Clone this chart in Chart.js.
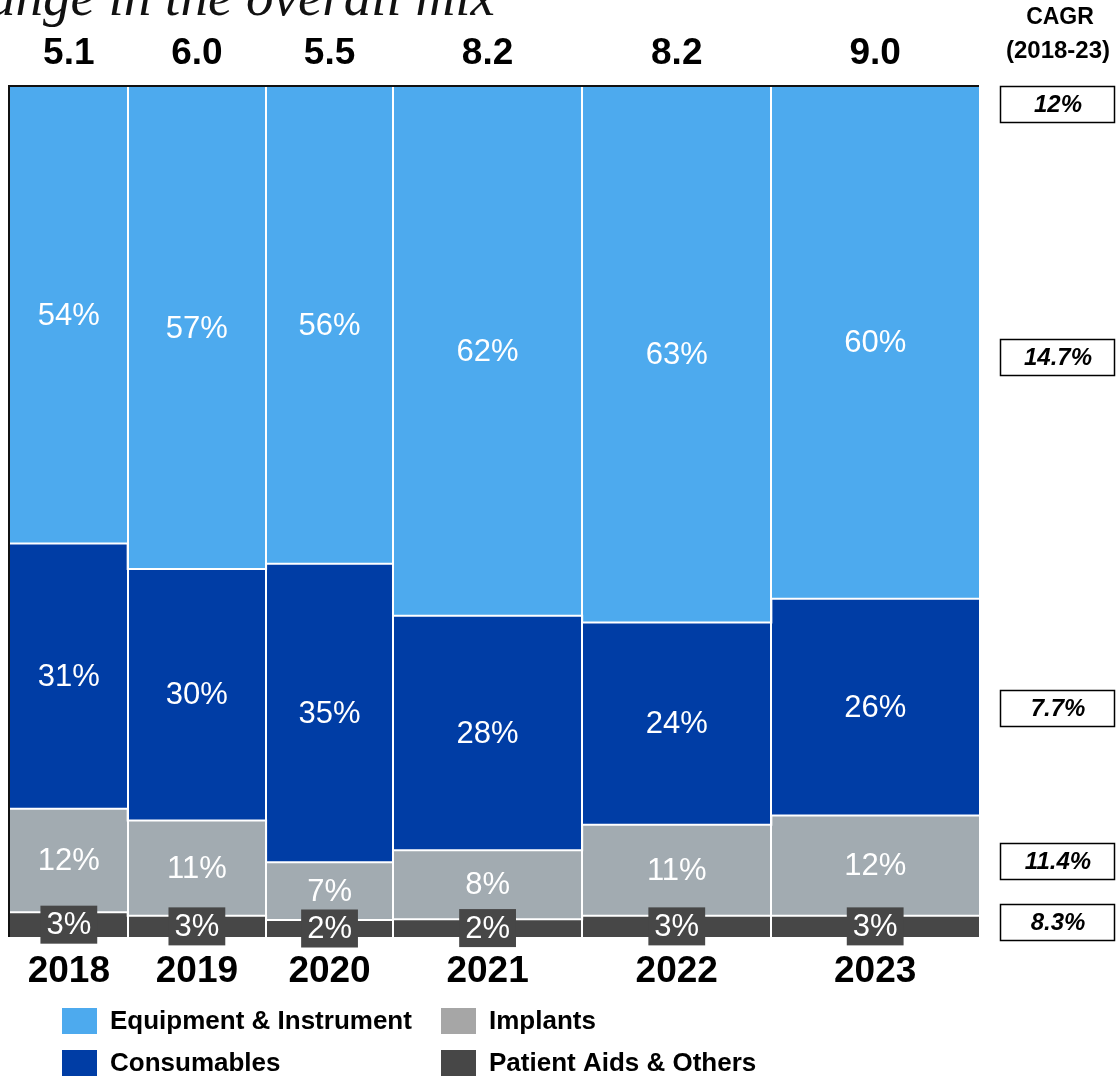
<!DOCTYPE html>
<html>
<head>
<meta charset="utf-8">
<script src="https://cdn.jsdelivr.net/npm/chart.js@4.4.1/dist/chart.umd.min.js"></script>
<style>
  html, body { margin: 0; padding: 0; background: #fff; }
  #wrap { position: relative; width: 1117px; height: 1077px; }
</style>
</head>
<body>
<div id="wrap"><canvas id="c"></canvas></div>
<script>
// Marimekko: column width = market size, stack = share of each segment.
const years = ["2018", "2019", "2020", "2021", "2022", "2023"];
const totals = [5.1, 6.0, 5.5, 8.2, 8.2, 9.0];

// shares in %, bottom segment first
const patientAids = [2.9, 2.5, 2.0, 2.1, 2.5, 2.5];
const implants    = [12.2, 11.2, 6.8, 8.1, 10.7, 11.8];
const consumables = [31.2, 29.6, 35.1, 27.6, 23.8, 25.5];
const equipment   = [53.7, 56.7, 56.1, 62.2, 63.0, 60.2];

const cagrLabels = ["12%", "14.7%", "7.7%", "11.4%", "8.3%"];

const SERIES = [
  { name: "Patient Aids & Others",  values: patientAids, color: "#474747", key: "#474747" },
  { name: "Implants",               values: implants,    color: "#A2ABB1", key: "#A6A6A6" },
  { name: "Consumables",            values: consumables, color: "#003DA5", key: "#003DA5" },
  { name: "Equipment & Instrument", values: equipment,   color: "#4DAAEE", key: "#4DAAEE" },
];

const FONT = "Arial, 'Liberation Sans', sans-serif";
const CAGR_BOX_TOPS = [86, 339, 690, 843, 904];

// column start positions along x
const starts = [];
totals.reduce((acc, t) => { starts.push(acc); return acc + t; }, 0);
const xMax = totals.reduce((a, b) => a + b, 0);
const centers = totals.map((t, i) => starts[i] + t / 2);

// cumulative tops per series
const cum = [];
SERIES.forEach((s, k) => {
  cum.push(s.values.map((v, i) => (k ? cum[k - 1][i] : 0) + v));
});

// each segment is a stepped line filled down to the one below it;
// the white rule on its top edge separates it from the next segment
const datasets = SERIES.map((s, k) => {
  const pts = starts.map((x, i) => ({ x, y: cum[k][i] }));
  pts.push({ x: xMax, y: cum[k][cum[k].length - 1] });
  return {
    label: s.name,
    data: pts,
    stepped: true,
    backgroundColor: s.color,
    borderColor: "#fff",
    borderWidth: k === SERIES.length - 1 ? 0 : 2,
    pointRadius: 0,
    fill: k === 0 ? "origin" : "-1",
  };
});

function line(ctx, x1, y1, x2, y2) {
  ctx.beginPath(); ctx.moveTo(x1, y1); ctx.lineTo(x2, y2); ctx.stroke();
}

const mekko = {
  id: "mekko",
  afterDatasetsDraw(chart) {
    const { ctx, chartArea: a, scales: { x, y } } = chart;
    ctx.save();
    // white gaps between columns
    ctx.strokeStyle = "#fff";
    ctx.lineWidth = 2;
    starts.slice(1).forEach((s) => {
      const px = Math.round(x.getPixelForValue(s));
      line(ctx, px, a.top, px, a.bottom);
    });
    // frame: top and left dark rules
    ctx.fillStyle = "#111";
    ctx.fillRect(a.left - 2, a.top - 2, a.right - a.left + 2, 2);
    ctx.fillRect(a.left - 2, a.top - 2, 2, a.bottom - a.top + 2);

    // segment labels
    ctx.font = `31px ${FONT}`;
    ctx.textAlign = "center";
    ctx.textBaseline = "middle";
    SERIES.forEach((s, k) => {
      s.values.forEach((v, i) => {
        const base = k ? cum[k - 1][i] : 0;
        const cx = x.getPixelForValue(centers[i]);
        const cy = y.getPixelForValue(base + v / 2);
        const txt = Math.round(v) + "%";
        if (k === 0) {
          const w = ctx.measureText(txt).width + 12;
          ctx.fillStyle = s.color;
          ctx.fillRect(cx - w / 2, cy - 19, w, 38);
        }
        ctx.fillStyle = "#fff";
        ctx.fillText(txt, cx, cy + 1);
      });
    });
    ctx.restore();
  },
  afterDraw(chart) {
    const { ctx, scales: { x } } = chart;
    ctx.save();
    ctx.fillStyle = "#000";
    ctx.textAlign = "center";
    ctx.textBaseline = "middle";

    // totals on top, years below
    ctx.font = `bold 37px ${FONT}`;
    totals.forEach((t, i) => ctx.fillText(t.toFixed(1), x.getPixelForValue(centers[i]), 54));
    years.forEach((yr, i) => ctx.fillText(yr, x.getPixelForValue(centers[i]), 972));

    // CAGR column
    ctx.font = `bold 23px ${FONT}`;
    ctx.fillText("CAGR", 1060, 18);
    ctx.font = `bold 24px ${FONT}`;
    ctx.fillText("(2018-23)", 1058, 51);
    ctx.font = `italic bold 24px ${FONT}`;
    ctx.strokeStyle = "#000";
    ctx.lineWidth = 1.5;
    cagrLabels.forEach((lab, i) => {
      const top = CAGR_BOX_TOPS[i];
      ctx.strokeRect(1000.5, top + 0.5, 114, 36);
      ctx.fillText(lab, 1058, top + 19);
    });

    // cropped heading
    ctx.font = `italic 55px 'Liberation Serif', serif`;
    ctx.textAlign = "right";
    ctx.textBaseline = "alphabetic";
    ctx.fillStyle = "#111";
    ctx.fillText("Change in the overall mix", 495, 15);

    // legend, 2 x 2
    const keys = [
      [SERIES[3], 62, 1021], [SERIES[1], 441, 1021],
      [SERIES[2], 62, 1063], [SERIES[0], 441, 1063],
    ];
    ctx.font = `bold 26px ${FONT}`;
    ctx.textAlign = "left";
    ctx.textBaseline = "middle";
    keys.forEach(([s, lx, ly]) => {
      ctx.fillStyle = s.key;
      ctx.fillRect(lx, ly - 13, 35, 26);
      ctx.fillStyle = "#000";
      ctx.fillText(s.name, lx + 48, ly + 1);
    });
    ctx.restore();
  },
};

new Chart(document.getElementById("c"), {
  type: "line",
  data: { datasets },
  options: {
    responsive: true,
    maintainAspectRatio: false,
    animation: false,
    layout: { padding: { left: 10, right: 138, top: 87, bottom: 140 } },
    plugins: { legend: { display: false }, tooltip: { enabled: false } },
    scales: {
      x: { type: "linear", min: 0, max: xMax, display: false },
      y: { type: "linear", min: 0, max: 100, display: false },
    },
    elements: { line: { tension: 0 } },
  },
  plugins: [mekko],
});
</script>
</body>
</html>
